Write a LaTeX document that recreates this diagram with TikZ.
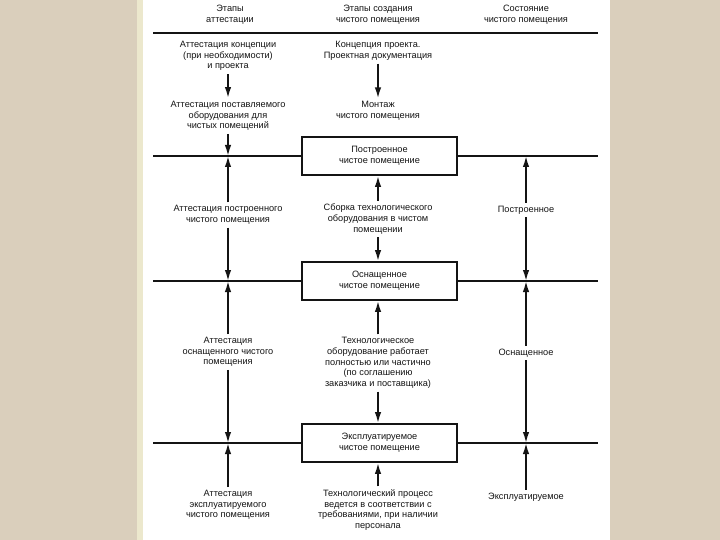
\documentclass[tikz,border=0pt]{standalone}
\usepackage{fontspec}
\setmainfont{Liberation Sans}
\usetikzlibrary{arrows.meta}
\definecolor{bg}{RGB}{218,207,188}
\definecolor{edge}{RGB}{236,232,205}
\definecolor{ink}{RGB}{20,20,20}
\begin{document}
\begin{tikzpicture}[x=1pt,y=-1pt,
  txt/.style={align=center,font=\fontsize{9.2}{10.7}\selectfont,inner sep=3pt,text=ink},
  box/.style={draw=ink,line width=1.8pt,minimum width=155pt,minimum height=38pt,inner sep=0pt,align=center,font=\fontsize{9.2}{10.7}\selectfont,text=ink},
  ln/.style={line width=1.7pt,draw=ink},
  arr/.style={ln,-{Latex[length=11pt,width=6.5pt]}}]
\useasboundingbox (0,0) rectangle (720,540);
\fill[bg] (0,0) rectangle (720,540);
\fill[edge] (137,0) rectangle (143,540);
\fill[white] (143,0) rectangle (610,540);
% header
\node[txt] (h1) at (230,15) {Этапы\\аттестации};
\node[txt] (h2) at (378,15) {Этапы создания\\чистого помещения};
\node[txt] (h3) at (526,15) {Состояние\\чистого помещения};
\coordinate (t0) at (153,33);
\coordinate (t1) at (598,33);
\draw[ln,line width=2.2pt] (t0) -- (t1);
% boxes
\node[box] (b1) at (379.5,156) {Построенное\\чистое помещение};
\node[box] (b2) at (379.5,281) {Оснащенное\\чистое помещение};
\node[box] (b3) at (379.5,443) {Эксплуатируемое\\чистое помещение};
% horizontal lines
\coordinate (l1a) at (153,156); \coordinate (l1b) at (598,156);
\coordinate (l2a) at (153,281); \coordinate (l2b) at (598,281);
\coordinate (l3a) at (153,443); \coordinate (l3b) at (598,443);
\draw[ln] (l1a) -- (b1.west); \draw[ln] (b1.east) -- (l1b);
\draw[ln] (l2a) -- (b2.west); \draw[ln] (b2.east) -- (l2b);
\draw[ln] (l3a) -- (b3.west); \draw[ln] (b3.east) -- (l3b);
% junctions
\coordinate (j1l) at (228,156); \coordinate (j2l) at (228,281); \coordinate (j3l) at (228,443);
\coordinate (j1r) at (526,156); \coordinate (j2r) at (526,281); \coordinate (j3r) at (526,443);
% left column
\node[txt] (a1) at (228,56) {Аттестация концепции\\(при необходимости)\\и проекта};
\node[txt] (a2) at (228,116) {Аттестация поставляемого\\оборудования для\\чистых помещений};
\node[txt] (a3) at (228,215) {Аттестация построенного\\чистого помещения};
\node[txt] (a4) at (228,352) {Аттестация\\оснащенного чистого\\помещения};
\node[txt] (a5) at (228,505) {Аттестация\\эксплуатируемого\\чистого помещения};
\draw[arr] (a1) -- (a2);
\draw[arr] (a2) -- (j1l);
\draw[arr] (a3) -- (j1l);
\draw[arr] (a3) -- (j2l);
\draw[arr] (a4) -- (j2l);
\draw[arr] (a4) -- (j3l);
\draw[arr] (a5) -- (j3l);
% middle column
\node[txt] (m1) at (378,51) {Концепция проекта.\\Проектная документация};
\node[txt] (m2) at (378,111) {Монтаж\\чистого помещения};
\node[txt] (m3) at (378,219) {Сборка технологического\\оборудования в чистом\\помещении};
\node[txt] (m4) at (378,363) {Технологическое\\оборудование работает\\полностью или частично\\(по соглашению\\заказчика и поставщика)};
\node[txt] (m5) at (378,510) {Технологический процесс\\ведется в соответствии с\\требованиями, при наличии\\персонала};
\draw[arr] (m1) -- (m2);
\draw[arr] (m3.north) -- (m3.north |- b1.south);
\draw[arr] (m3.south) -- (m3.south |- b2.north);
\draw[arr] (m4.north) -- (m4.north |- b2.south);
\draw[arr] (m4.south) -- (m4.south |- b3.north);
\draw[arr] (m5.north) -- (m5.north |- b3.south);
% right column
\node[txt] (r1) at (526,210) {Построенное};
\node[txt] (r2) at (526,353) {Оснащенное};
\node[txt] (r3) at (526,497) {Эксплуатируемое};
\draw[arr] (r1) -- (j1r);
\draw[arr] (r1) -- (j2r);
\draw[arr] (r2) -- (j2r);
\draw[arr] (r2) -- (j3r);
\draw[arr] (r3) -- (j3r);
\end{tikzpicture}
\end{document}
